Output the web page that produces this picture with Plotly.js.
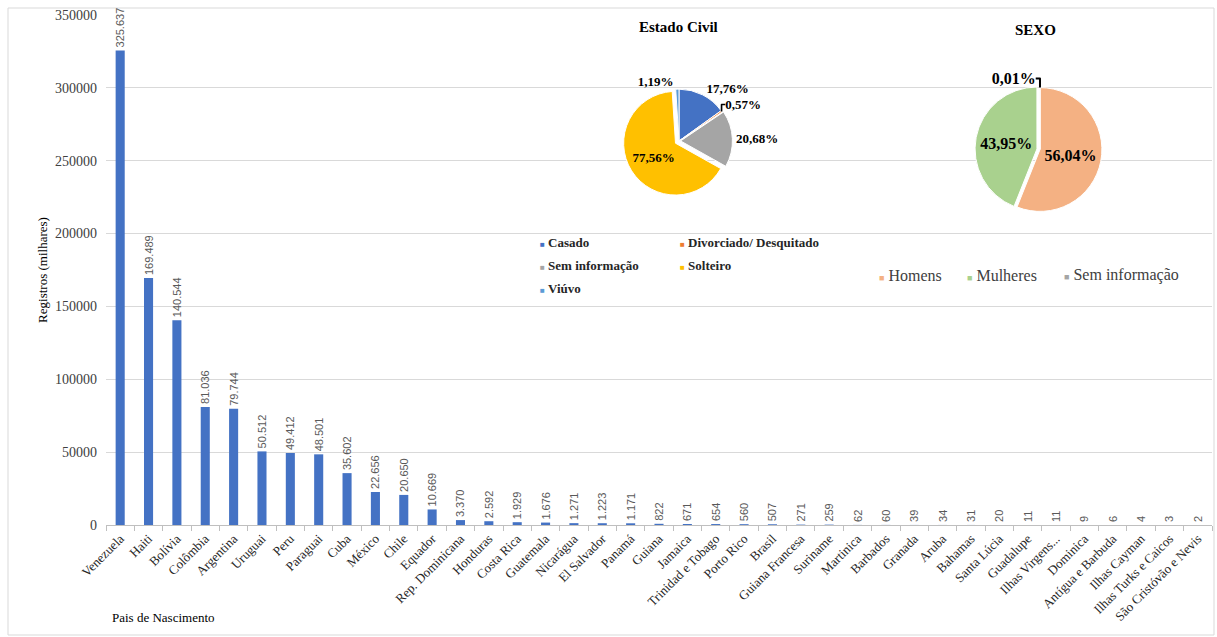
<!DOCTYPE html>
<html>
<head>
<meta charset="utf-8">
<script src="https://cdn.plot.ly/plotly-3.0.1.min.js"></script>
<style>html,body{margin:0;padding:0;background:#fff;}#chart{width:1217px;height:637px;}</style>
</head>
<body>
<div id="chart"></div>
<script>
// ---- Data ----
const countries = ["Venezuela","Haiti","Bolívia","Colômbia","Argentina","Uruguai","Peru","Paraguai","Cuba","México","Chile","Equador","Rep. Dominicana","Honduras","Costa Rica","Guatemala","Nicarágua","El Salvador","Panamá","Guiana","Jamaica","Trinidad e Tobago","Porto Rico","Brasil","Guiana Francesa","Suriname","Martinica","Barbados","Granada","Aruba","Bahamas","Santa Lúcia","Guadalupe","Ilhas Virgens...","Dominica","Antígua e Barbuda","Ilhas Cayman","Ilhas Turks e Caicos","São Cristóvão e Nevis"];
const registros = [325637,169489,140544,81036,79744,50512,49412,48501,35602,22656,20650,10669,3370,2592,1929,1676,1271,1223,1171,822,671,654,560,507,271,259,62,60,39,34,31,20,11,11,9,6,4,3,2];

const estadoLabels = ["Casado","Divorciado/ Desquitado","Sem informação","Solteiro","Viúvo"];
const estadoPct = [17.76,0.57,20.68,77.56,1.19];

const sexoLabels = ["Homens","Mulheres","Sem informação"];
const sexoPct = [56.04,43.95,0.01];

// ---- Styles ----
const serif = "Liberation Serif, Times New Roman, serif";
const estadoColors = ["#4472C4","#ED7D31","#A5A5A5","#FFC000","#5B9BD5"];
const sexoColors = ["#F4B183","#A9D18E","#A5A5A5"];

// layout geometry helpers (pixel -> paper)
const L = 106, R = 5, T = 15, B = 112, W = 1217, H = 637;
const pw = W - L - R, ph = H - T - B;
const px = x => (x - L) / pw;
const py = y => (H - B - y) / ph;

const bar = {
  type: "bar",
  x: countries,
  y: registros,
  marker: {color: "#4472C4"},
  texttemplate: "%{y:,}",
  textposition: "outside",
  textangle: -90,
  constraintext: "none",
  cliponaxis: false,
  textfont: {family: "Liberation Sans, Arial, sans-serif", size: 11, color: "#595959"},
  showlegend: false,
  hoverinfo: "x+y"
};

const pieEstado = {
  type: "pie",
  labels: estadoLabels,
  values: estadoPct,
  sort: false,
  direction: "clockwise",
  rotation: 0,
  marker: {colors: estadoColors, line: {color: "#ffffff", width: 1}},
  pull: [0, 0, 0.03, 0.08, 0],
  texttemplate: "%{value:.2f}%",
  textposition: ["outside","outside","outside","inside","outside"],
  textfont: {family: serif, size: 13, color: "#000000", weight: "bold"},
  insidetextorientation: "horizontal",
  domain: {x: [px(584), px(774)], y: [py(197), py(85)]},
  showlegend: false,
  automargin: false
};

const pieSexo = {
  type: "pie",
  labels: sexoLabels,
  values: sexoPct,
  sort: false,
  direction: "clockwise",
  rotation: 0,
  marker: {colors: sexoColors, line: {color: "#ffffff", width: 1}},
  pull: [0, 0.05, 0],
  texttemplate: "%{value:.2f}%",
  textposition: ["inside","inside","outside"],
  textfont: {family: serif, size: 16, color: "#000000", weight: "bold"},
  insidetextorientation: "horizontal",
  domain: {x: [px(975), px(1105)], y: [py(217), py(82)]},
  showlegend: false,
  automargin: false
};

const estadoLegend = [
  {name: estadoLabels[0], c: estadoColors[0], x: 538, y: 242},
  {name: estadoLabels[1], c: estadoColors[1], x: 678, y: 242},
  {name: estadoLabels[2], c: estadoColors[2], x: 538, y: 265},
  {name: estadoLabels[3], c: estadoColors[3], x: 678, y: 265},
  {name: estadoLabels[4], c: estadoColors[4], x: 538, y: 288}
];
const sexoLegend = [
  {name: sexoLabels[0], c: sexoColors[0], x: 877, y: 275},
  {name: sexoLabels[1], c: sexoColors[1], x: 965, y: 275},
  {name: sexoLabels[2], c: sexoColors[2], x: 1062, y: 275}
];

const annotations = [
  {text: "<b>Estado Civil</b>", x: px(678), y: py(27), xref: "paper", yref: "paper", xanchor: "center", yanchor: "middle", showarrow: false, font: {family: serif, size: 15, color: "#000"}},
  {text: "<b>SEXO</b>", x: px(1035), y: py(30), xref: "paper", yref: "paper", xanchor: "center", yanchor: "middle", showarrow: false, font: {family: serif, size: 15, color: "#000"}},
  {text: "Pais de Nascimento", x: px(110), y: py(617), xref: "paper", yref: "paper", xanchor: "left", yanchor: "middle", showarrow: false, font: {family: serif, size: 13, color: "#000"}}
].concat(estadoLegend.map(it => ({
  text: "<span style='color:" + it.c + ";font-size:8px'>■</span> <b>" + it.name + "</b>",
  x: px(it.x), y: py(it.y), xref: "paper", yref: "paper", xanchor: "left", yanchor: "middle",
  showarrow: false, font: {family: serif, size: 13, color: "#262626"}
}))).concat(sexoLegend.map(it => ({
  text: "<span style='color:" + it.c + ";font-size:9px'>■</span> " + it.name,
  x: px(it.x), y: py(it.y), xref: "paper", yref: "paper", xanchor: "left", yanchor: "middle",
  showarrow: false, font: {family: serif, size: 16, color: "#404040"}
})));

const layout = {
  width: W, height: H,
  margin: {l: L, r: R, t: T, b: B},
  paper_bgcolor: "#ffffff",
  plot_bgcolor: "#ffffff",
  separators: ",.",
  bargap: 0.68,
  showlegend: false,
  font: {family: serif, color: "#404040"},
  xaxis: {
    type: "category",
    tickangle: -45,
    tickfont: {family: serif, size: 13, color: "#262626"},
    showline: true, linecolor: "#bfbfbf", linewidth: 1,
    ticks: "outside", tickson: "boundaries", ticklen: 5, tickcolor: "#bfbfbf",
    showgrid: false
  },
  yaxis: {
    range: [0, 350000],
    tickvals: [0,50000,100000,150000,200000,250000,300000,350000],
    tickformat: "d",
    ticklabelstandoff: 8,
    tickfont: {family: serif, size: 14, color: "#404040"},
    showgrid: true, gridcolor: "#d9d9d9", gridwidth: 1,
    zeroline: false, showline: false, ticks: "",
    title: {text: "Registros (milhares)", font: {family: serif, size: 13, color: "#000"}, standoff: 4}
  },
  annotations: annotations,
  shapes: [{
    type: "rect", xref: "paper", yref: "paper",
    x0: px(8), x1: px(1214), y0: py(635), y1: py(8),
    line: {color: "#d9d9d9", width: 1}, fillcolor: "rgba(0,0,0,0)", layer: "below"
  }]
};

Plotly.newPlot("chart", [bar, pieEstado, pieSexo], layout, {displayModeBar: false, staticPlot: true});
</script>
</body>
</html>
